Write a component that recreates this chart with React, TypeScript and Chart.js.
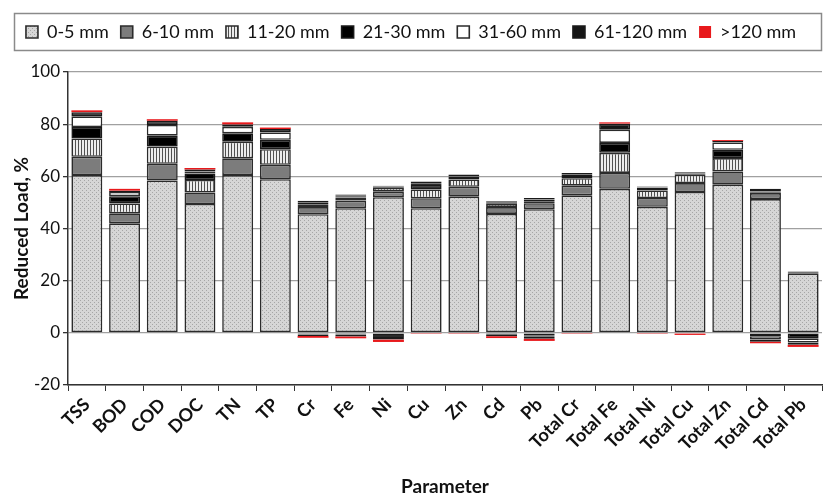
import React, { useEffect, useRef } from 'react';
import { Chart, registerables } from 'chart.js';
Chart.register(...registerables);

const categories = ['TSS', 'BOD', 'COD', 'DOC', 'TN', 'TP', 'Cr', 'Fe', 'Ni', 'Cu', 'Zn', 'Cd', 'Pb', 'Total Cr', 'Total Fe', 'Total Ni', 'Total Cu', 'Total Zn', 'Total Cd', 'Total Pb'];
const seriesNames = ['0-5 mm', '6-10 mm', '11-20 mm', '21-30 mm', '31-60 mm', '61-120 mm', '>120 mm'];

const s0_5 = [60.5, 42.0, 58.4, 49.4, 60.5, 58.9, 45.5, 47.8, 52.0, 47.8, 52.2, 45.6, 47.4, 52.7, 55.2, 48.3, 54.0, 56.8, 51.3, 22.8];
const s6_10 = [7.0, 3.8, 6.4, 4.4, 6.4, 5.5, 2.7, 2.9, 2.1, 3.8, 3.8, 2.6, 2.3, 3.7, 6.1, 3.4, 3.4, 5.1, 2.3, 0];
const s11_20 = [7.0, 3.8, 6.6, 4.8, 6.4, 6.0, 1.1, 1.2, 1.5, 3.4, 2.8, 1.3, 0.6, 2.9, 7.7, 2.9, 3.2, 5.1, 0.3, 0];
const s21_30 = [4.4, 2.8, 4.2, 2.5, 3.2, 3.6, 0.5, 0.5, 0.3, 1.7, 1.0, 0.3, 0.6, 1.2, 3.8, 1.0, 0.5, 3.2, 0.3, 0.2];
const s31_60 = [4.1, 1.6, 4.1, 0.8, 2.5, 2.8, 0.3, 0.3, 0.2, 0.5, 0.2, 0.3, 0.2, 0.3, 5.1, 0.2, 0.2, 2.8, 0.2, 0];
const s61_120 = [1.6, 0.5, 1.6, 0.7, 0.9, 1.3, 0.5, 0.3, 0.3, 0.8, 0.7, 0.3, 0.6, 0.5, 2.3, 0.3, 0.3, 0.5, 0.8, 0.5];
const s120 = [0.7, 0.7, 0.6, 0.6, 0.8, 0.6, 0, 0, 0, 0, 0, 0, 0, 0, 0.5, 0, 0, 0.4, 0, 0];

// negative (load increase) parts
const neg21_30 = [0, 0, 0, 0, 0, 0, -0.6, -0.6, -0.8, 0, 0, -0.5, -0.9, 0, 0, 0, 0, 0, -1.3, -2.1];
const neg31_60 = [0, 0, 0, 0, 0, 0, 0, 0, -0.8, 0, 0, 0, -0.6, 0, 0, 0, 0, 0, -1.3, -1.6];
const neg61_120 = [0, 0, 0, 0, 0, 0, -0.6, -0.8, -1.0, 0, 0, -0.8, -0.8, 0, 0, 0, -0.3, 0, -0.8, -0.9];
const neg120 = [0, 0, 0, 0, 0, 0, -0.7, -0.7, -0.9, -0.4, -0.4, -0.7, -0.8, -0.4, 0, -0.4, -0.5, 0, -0.6, -0.8];

const yTicks = [-20, 0, 20, 40, 60, 80, 100];

const FONT = 'Lato, "Open Sans", sans-serif';

export default function App() {
  const ref = useRef<HTMLCanvasElement>(null);
  useEffect(() => {
    document.body.style.margin = '0';
    const canvas = ref.current!;
    const ctx0 = canvas.getContext('2d')!;
    const mk = (w: number, h: number, draw: (c: CanvasRenderingContext2D) => void) => {
      const c = document.createElement('canvas');
      c.width = w; c.height = h;
      const x = c.getContext('2d')!;
      draw(x);
      return ctx0.createPattern(c, 'repeat')!;
    };
    const dotted = mk(4, 4, (c) => {
      c.fillStyle = '#d6d6d6'; c.fillRect(0, 0, 4, 4);
      c.fillStyle = '#a6a6a6'; c.fillRect(0, 0, 1, 1); c.fillRect(2, 2, 1, 1);
    });
    const stripes = mk(3, 3, (c) => {
      c.fillStyle = '#ececec'; c.fillRect(0, 0, 3, 3);
      c.fillStyle = '#505050'; c.fillRect(0, 0, 1, 3);
    });

    const fills: any[] = [dotted, '#7c7c7c', stripes, '#000000', '#ffffff', '#161616', '#e8191c'];
    const borders = ['#2b2b2b', '#2b2b2b', '#2b2b2b', '#1a1a1a', '#2b2b2b', '#1a1a1a', '#e8191c'];
    const posData = [s0_5, s6_10, s11_20, s21_30, s31_60, s61_120, s120];
    const negData: [number, number[]][] = [[3, neg21_30], [4, neg31_60], [5, neg61_120], [6, neg120]];

    const common = { stack: 's', barPercentage: 0.82, categoryPercentage: 1, borderSkipped: false as const };
    const datasets: any[] = posData.map((d, i) => ({
      ...common, label: seriesNames[i], data: d, backgroundColor: fills[i], borderColor: borders[i], borderWidth: i === 6 ? 0 : 1.6,
    }));
    negData.forEach(([i, d]) => datasets.push({
      ...common, label: seriesNames[i] + ' ', data: d, backgroundColor: fills[i], borderColor: borders[i], borderWidth: i === 6 ? 0 : 1.6,
    }));

    const legendFix = {
      id: 'legendFix',
      beforeLayout(chart: any) {
        const lg = chart.legend;
        if (lg && !lg.__fixed) {
          const fit = lg.fit.bind(lg);
          lg.fit = function () { fit(); this.height = 61; };
          lg.__fixed = true;
        }
      },
      afterDraw(chart: any) {
        const c = chart.ctx;
        c.save();
        c.strokeStyle = '#8a8a8a';
        c.lineWidth = 1.5;
        c.strokeRect(14.5, 13.5, 807, 37);
        c.restore();
      },
    };

    const chart = new Chart(canvas, {
      type: 'bar',
      data: { labels: categories, datasets },
      plugins: [legendFix],
      options: {
        responsive: false,
        animation: false,
        layout: { padding: { top: 11, right: 4, bottom: 0, left: 0 } },
        plugins: {
          tooltip: { enabled: false },
          legend: {
            position: 'top',
            labels: {
              filter: (item: any) => item.datasetIndex < 7,
              boxWidth: 12, boxHeight: 12, padding: 12,
              font: { family: FONT, size: 18 }, color: '#111',
            },
          },
        },
        scales: {
          x: {
            stacked: true,
            afterFit: (s: any) => { s.height = 114; },
            grid: { drawOnChartArea: false, tickLength: 6, color: '#333', offset: true },
            border: { color: '#333', width: 1.5 },
            ticks: { autoSkip: false, maxRotation: 45, minRotation: 45, padding: 3, color: '#111', font: { family: FONT, size: 18, weight: 'bold' } },
            title: { display: true, text: 'Parameter', color: '#111', font: { family: FONT, size: 19, weight: 'bold' }, padding: { top: 0, bottom: 1 } },
          },
          y: {
            stacked: true,
            min: -20, max: 100,
            afterFit: (s: any) => { s.width = 68; },
            afterBuildTicks: (s: any) => { s.ticks = yTicks.map((v) => ({ value: v })); },
            grid: { color: '#a0a0a0', lineWidth: 1.3, tickLength: 5, tickColor: '#333' },
            border: { color: '#333', width: 1.5 },
            ticks: { padding: 3, color: '#111', font: { family: FONT, size: 17 } },
            title: { display: true, text: 'Reduced Load, %', color: '#111', font: { family: FONT, size: 19, weight: 'bold' }, padding: { top: 10, bottom: 0 } },
          },
        },
      },
    });
    return () => chart.destroy();
  }, []);
  return (
    <div style={{ width: 826, height: 499, overflow: 'hidden' }}>
      <canvas ref={ref} width={826} height={499} style={{ display: 'block' }} />
    </div>
  );
}
